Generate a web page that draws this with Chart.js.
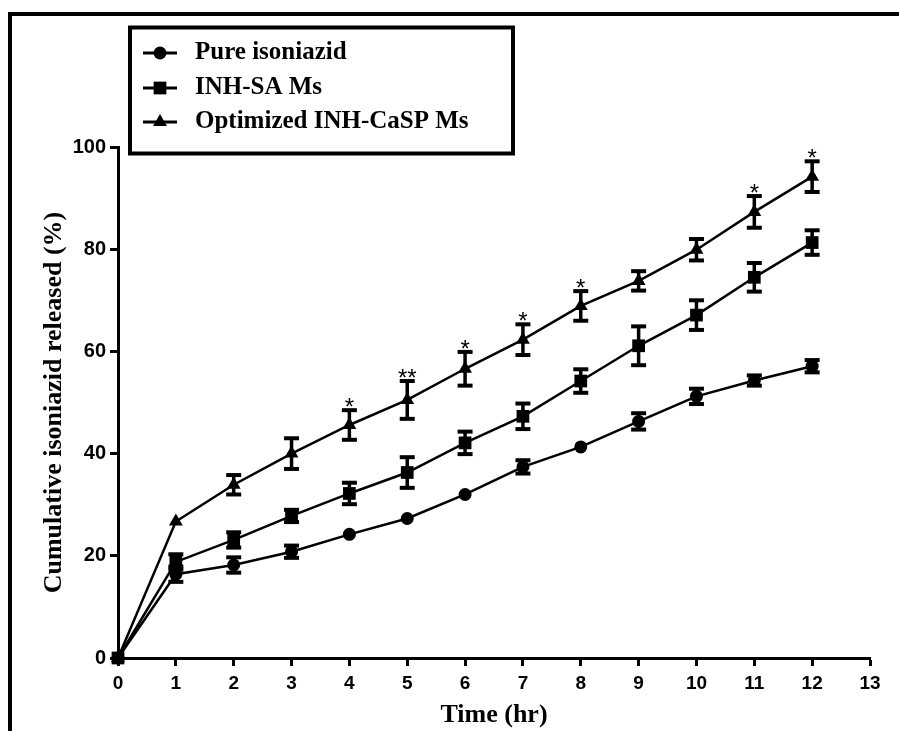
<!DOCTYPE html>
<html>
<head>
<meta charset="utf-8">
<style>
  html, body { margin: 0; padding: 0; background: #fff; }
  canvas { display: block; }
</style>
<script src="https://cdn.jsdelivr.net/npm/chart.js@4.4.0/dist/chart.umd.min.js"></script>
</head>
<body>
<canvas id="releaseChart" width="899" height="731"></canvas>
<script>
// Data
const times = [0, 1, 2, 3, 4, 5, 6, 7, 8, 9, 10, 11, 12];
const pureInh = [0, 16.4, 18.2, 20.8, 24.2, 27.3, 32.0, 37.4, 41.3, 46.3, 51.2, 54.3, 57.1];
const pureErr = [0, 1.5, 1.5, 1.2, 0, 0, 0, 1.3, 0, 1.6, 1.5, 1.0, 1.2];
const inhSa = [0, 18.8, 23.1, 27.8, 32.2, 36.3, 42.1, 47.3, 54.2, 61.1, 67.1, 74.5, 81.3];
const inhSaErr = [0, 1.5, 1.5, 1.2, 2.1, 3.0, 2.2, 2.5, 2.3, 3.8, 2.9, 2.8, 2.4];
const optCasp = [0, 26.7, 33.9, 40.0, 45.6, 50.5, 56.6, 62.3, 68.9, 73.8, 79.9, 87.3, 94.2];
const optCaspErr = [0, 0, 1.9, 3.0, 2.9, 3.7, 3.3, 3.0, 2.9, 1.9, 2.1, 3.1, 3.0];
const stars = ['', '', '', '', '*', '**', '*', '*', '*', '', '', '*', '*'];

const seriesNames = ['Pure isoniazid', 'INH-SA Ms', 'Optimized INH-CaSP Ms'];
const seriesValues = [pureInh, inhSa, optCasp];
const seriesErrors = [pureErr, inhSaErr, optCaspErr];
const seriesMarkers = ['circle', 'rect', 'triangle'];
const markerRadius = { circle: 6.5, rect: 9, triangle: 8 };

const serif = '"Liberation Serif", "Times New Roman", serif';
const sans = '"Liberation Sans", Arial, sans-serif';

function strokeLine(ctx, x1, y1, x2, y2) {
  ctx.beginPath();
  ctx.moveTo(x1, y1);
  ctx.lineTo(x2, y2);
  ctx.stroke();
}

// white page + the outer frame that is cut off by the picture edge
const framePlugin = {
  id: 'frame',
  beforeDraw(chart) {
    const ctx = chart.ctx;
    ctx.save();
    ctx.fillStyle = '#fff';
    ctx.fillRect(0, 0, chart.width, chart.height);
    ctx.fillStyle = '#000';
    ctx.fillRect(8, 12, 4, chart.height - 12);
    ctx.fillRect(8, 12, chart.width - 8, 4);
    ctx.restore();
  }
};

const errorBarPlugin = {
  id: 'errorBars',
  afterDatasetsDraw(chart) {
    const ctx = chart.ctx;
    const xs = chart.scales.x;
    const ys = chart.scales.y;
    ctx.save();
    ctx.strokeStyle = '#000';
    seriesErrors.forEach((errs, d) => {
      const vals = seriesValues[d];
      times.forEach((t, i) => {
        if (!errs[i]) return;
        const px = xs.getPixelForValue(t);
        const top = ys.getPixelForValue(vals[i] + errs[i]);
        const bot = ys.getPixelForValue(vals[i] - errs[i]);
        ctx.lineWidth = 3.5;
        strokeLine(ctx, px, top, px, bot);
        ctx.lineWidth = 4;
        strokeLine(ctx, px - 7.5, top, px + 7.5, top);
        strokeLine(ctx, px - 7.5, bot, px + 7.5, bot);
      });
    });

    // significance stars above the optimized series
    ctx.fillStyle = '#000';
    ctx.font = '24px ' + sans;
    ctx.textAlign = 'center';
    ctx.textBaseline = 'alphabetic';
    stars.forEach((s, i) => {
      if (!s) return;
      const px = xs.getPixelForValue(times[i]);
      const top = ys.getPixelForValue(optCasp[i] + optCaspErr[i]);
      ctx.fillText(s, px, top + 5);
    });
    ctx.restore();
  }
};

function drawMarker(ctx, style, x, y) {
  const r = markerRadius[style];
  ctx.beginPath();
  if (style === 'circle') {
    ctx.arc(x, y, r, 0, Math.PI * 2);
  } else if (style === 'rect') {
    const h = r * Math.SQRT1_2;
    ctx.rect(x - h, y - h, h * 2, h * 2);
  } else {
    ctx.moveTo(x, y - r);
    ctx.lineTo(x + r * Math.cos(Math.PI / 6), y + r / 2);
    ctx.lineTo(x - r * Math.cos(Math.PI / 6), y + r / 2);
    ctx.closePath();
  }
  ctx.fill();
}

// boxed legend in the top left corner
const boxLegendPlugin = {
  id: 'boxLegend',
  afterDraw(chart) {
    const ctx = chart.ctx;
    ctx.save();
    ctx.strokeStyle = '#000';
    ctx.fillStyle = '#000';
    ctx.lineWidth = 4;
    ctx.strokeRect(130, 27.5, 383, 126);
    const rows = [53, 88, 122];
    ctx.font = 'bold 25px ' + serif;
    ctx.textAlign = 'left';
    ctx.textBaseline = 'middle';
    seriesNames.forEach((name, i) => {
      const y = rows[i];
      ctx.lineWidth = 3;
      strokeLine(ctx, 143, y, 177, y);
      drawMarker(ctx, seriesMarkers[i], 160, y);
      ctx.fillText(name, 195, y);
    });
    ctx.restore();
  }
};

const datasets = seriesNames.map((name, d) => ({
  label: name,
  data: times.map((t, i) => ({ x: t, y: seriesValues[d][i] })),
  borderColor: '#000',
  backgroundColor: '#000',
  borderWidth: 2.5,
  pointStyle: seriesMarkers[d],
  pointRadius: markerRadius[seriesMarkers[d]],
  pointBackgroundColor: '#000',
  pointBorderColor: '#000',
  pointBorderWidth: 0,
  tension: 0,
  clip: false
}));

new Chart(document.getElementById('releaseChart'), {
  type: 'line',
  data: { datasets: datasets },
  options: {
    responsive: false,
    animation: false,
    layout: { padding: { top: 147, right: 29, left: 0, bottom: 0 } },
    plugins: {
      legend: { display: false },
      tooltip: { enabled: false }
    },
    scales: {
      x: {
        type: 'linear',
        min: 0,
        max: 13,
        afterFit: scale => { scale.height = 73; },
        border: { display: true, color: '#000', width: 3 },
        grid: { drawOnChartArea: false, drawTicks: true, tickLength: 8, tickWidth: 3, tickColor: '#000', color: '#000' },
        ticks: { stepSize: 1, color: '#000', padding: 6, font: { family: sans, size: 19, weight: 'bold' } },
        title: { display: true, text: 'Time (hr)', color: '#000', padding: { top: 0, bottom: 0 }, font: { family: serif, size: 26, weight: 'bold' } }
      },
      y: {
        min: 0,
        max: 100,
        afterFit: scale => { scale.width = 118; },
        border: { display: true, color: '#000', width: 3 },
        grid: { drawOnChartArea: false, drawTicks: true, tickLength: 8, tickWidth: 3, tickColor: '#000', color: '#000' },
        ticks: { stepSize: 20, color: '#000', padding: 4, font: { family: sans, size: 20, weight: 'bold' } },
        title: { display: true, text: 'Cumulative isoniazid released (%)', color: '#000', padding: { top: 39, bottom: 0 }, font: { family: serif, size: 26, weight: 'bold' } }
      }
    }
  },
  plugins: [framePlugin, errorBarPlugin, boxLegendPlugin]
});
</script>
</body>
</html>
